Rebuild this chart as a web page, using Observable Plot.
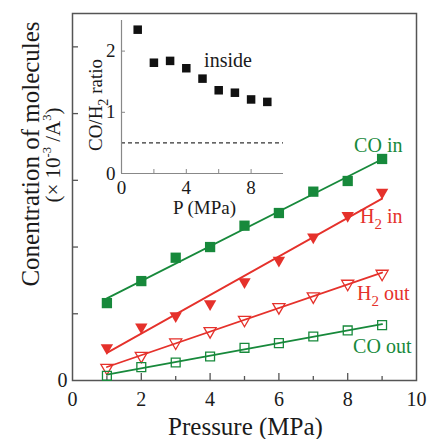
<!DOCTYPE html>
<html>
<head>
<meta charset="utf-8">
<script src="https://cdn.jsdelivr.net/npm/d3@7"></script>
<script src="https://cdn.jsdelivr.net/npm/@observablehq/plot@0.6"></script>
<style>
  html, body { margin: 0; padding: 0; background: #fff; }
  #chart { position: relative; width: 429px; height: 439px; }
  #chart svg { position: absolute; }
</style>
</head>
<body>
<div id="chart"></div>
<script>
// Pressure steps (MPa) and molecule concentrations (x10^-3 / A^3)
const pressure = [1, 2, 3, 4, 5, 6, 7, 8, 9];
const coIn  = [1.16, 1.49, 1.84, 2.00, 2.32, 2.51, 2.83, 2.99, 3.32];
const h2In  = [0.49, 0.80, 0.97, 1.15, 1.48, 1.80, 2.15, 2.47, 2.82];
const h2Out = [0.19, 0.37, 0.57, 0.74, 0.91, 1.10, 1.26, 1.45, 1.60];
const coOut = [0.07, 0.20, 0.27, 0.36, 0.49, 0.56, 0.66, 0.75, 0.83];

// CO/H2 ratio inside
const ratioInside = [2.35, 1.81, 1.84, 1.72, 1.55, 1.36, 1.32, 1.21, 1.17];
const ratioReference = [0.5];

// Axis ticks
const xTickLabels = [0, 2, 4, 6, 8, 10];
const xMajorTicks = [2, 4, 6, 8];
const xMinorTicks = [1, 3, 5, 7, 9];
const yTickLabels = [0];
const yTicks = [1, 2, 3, 4, 5];
const insetXTickLabels = [0, 4, 8];
const insetXTicks = [2, 4, 6, 8];
const insetYTickLabels = [0, 1, 2];
const insetYTicks = [1, 2];

const GREEN = "#17893b";
const RED = "#e5312b";
const AXIS = "#555";
const FONT_NAME = "Liberation Serif";
const SERIF = `'${FONT_NAME}', 'Times New Roman', serif`;
const intFormat = d => String(d);

// downward-pointing triangle symbol
const triangleDown = {
  draw(ctx, size) {
    const y = Math.sqrt(size / (Math.sqrt(3) * 3));
    ctx.moveTo(0, 2 * y);
    ctx.lineTo(Math.sqrt(3) * y, -y);
    ctx.lineTo(-Math.sqrt(3) * y, -y);
    ctx.closePath();
  }
};

const series = [
  {label: "CO in",    values: coIn,  color: GREEN, symbol: "square",     filled: true,  r: 5.8, dx: -28, dy: -13},
  {label: "H_{2} in", values: h2In,  color: RED,   symbol: triangleDown, filled: true,  r: 4.6, dx: -22, dy: 24},
  {label: "H_{2} out",values: h2Out, color: RED,   symbol: triangleDown, filled: false, r: 4.5, dx: -25, dy: 20},
  {label: "CO out",   values: coOut, color: GREEN, symbol: "square",     filled: false, r: 5.0, dx: -29, dy: 21}
];

// text width measurement for labels split into several tspans
const measureCtx = document.createElement("canvas").getContext("2d");
function textWidth(str, size) {
  measureCtx.font = `${size}px '${FONT_NAME}'`;
  return measureCtx.measureText(str).width;
}

// render "_{..}" as subscript and "^{..}" as superscript inside svg text;
// centred labels are laid out from the start with a measured offset
function applyScripts(svg) {
  const ns = "http://www.w3.org/2000/svg";
  for (const t of svg.querySelectorAll("text")) {
    const s = t.textContent;
    if (!/[_^]\{/.test(s)) continue;
    const cs = getComputedStyle(t);
    const fs = parseFloat(cs.fontSize) || 20;
    const centred = cs.textAnchor === "middle";
    const parts = s.split(/([_^]\{[^}]*\})/).filter(Boolean);
    t.textContent = "";
    let total = 0;
    const spans = [];
    for (const p of parts) {
      const ts = document.createElementNS(ns, "tspan");
      const m = p.match(/^([_^])\{(.*)\}$/);
      if (m) {
        const sub = m[1] === "_";
        const size = fs * (sub ? 0.75 : 0.6);
        ts.setAttribute("font-size", size.toFixed(1));
        ts.setAttribute("baseline-shift", (fs * (sub ? -0.3 : 0.42)).toFixed(1));
        ts.textContent = m[2];
        total += textWidth(m[2], size);
      } else {
        ts.textContent = p;
        total += textWidth(p, fs);
      }
      spans.push(ts);
      t.appendChild(ts);
    }
    if (centred) {
      t.setAttribute("text-anchor", "start");
      t.style.textAnchor = "start";
      spans[0].setAttribute("dx", (-total / 2).toFixed(2));
    }
  }
}

const W = 429, H = 439;
const mL = 72, mR = 13, mT = 13, mB = 59;
const innerW = W - mL - mR, innerH = H - mT - mB;

const marks = [
  Plot.frame({stroke: AXIS, strokeWidth: 1.5}),
  Plot.ruleX(xMajorTicks, {stroke: AXIS, strokeWidth: 1.3, insetTop: innerH - 7}),
  Plot.ruleX(xMinorTicks, {stroke: AXIS, strokeWidth: 1.3, insetTop: innerH - 4}),
  Plot.ruleY(yTicks, {stroke: AXIS, strokeWidth: 1.3, insetRight: innerW - 6}),
  Plot.axisX({ticks: xTickLabels, tickFormat: intFormat, tickSize: 0, tickPadding: 11, fontSize: 20, label: null}),
  Plot.axisY({ticks: yTickLabels, tickFormat: intFormat, tickSize: 0, tickPadding: 5, fontSize: 20, label: null}),
  Plot.text(["Pressure (MPa)"], {frameAnchor: "bottom", textAnchor: "middle", dx: 1, dy: 46, fontSize: 25, lineAnchor: "middle"}),
  Plot.text(["Conentration of molecules"], {frameAnchor: "left", textAnchor: "middle", dx: -42, dy: -43, rotate: -90, fontSize: 25, lineAnchor: "middle"}),
  Plot.text(["(× 10^{-3} /A^{3})"], {frameAnchor: "left", textAnchor: "middle", dx: -19, dy: -42, rotate: -90, fontSize: 21, lineAnchor: "middle"})
];

for (const s of series) {
  const rows = pressure.map((p, i) => ({p, v: s.values[i]}));
  marks.push(
    Plot.linearRegressionY(rows, {x: "p", y: "v", stroke: s.color, strokeWidth: 1.8, ci: 0}),
    Plot.dot(rows, {
      x: "p", y: "v", symbol: s.symbol, r: s.r,
      fill: s.filled ? s.color : "none",
      stroke: s.filled ? "none" : s.color,
      strokeWidth: 1.3
    }),
    Plot.text(rows.slice(-1), {
      x: "p", y: "v", text: () => s.label, fill: s.color,
      fontSize: 20, textAnchor: "start", lineAnchor: "middle", dx: s.dx, dy: s.dy
    })
  );
}

const main = Plot.plot({
  width: W, height: H,
  marginLeft: mL, marginRight: mR, marginTop: mT, marginBottom: mB,
  x: {domain: [0, 10], axis: null},
  y: {domain: [0, 5.5], axis: null},
  style: {fontFamily: SERIF, fontSize: "20px", color: "#1a1a1a", background: "transparent", overflow: "visible"},
  marks
});
main.style.left = "0px";
main.style.top = "0px";

// inset: CO/H2 ratio inside
const iW = 213, iH = 220;
const iL = 41, iR = 10, iT = 20, iB = 47;
const iInnerW = iW - iL - iR, iInnerH = iH - iT - iB;
const insetRows = pressure.map((p, i) => ({p, v: ratioInside[i]}));

const inset = Plot.plot({
  width: iW, height: iH,
  marginLeft: iL, marginRight: iR, marginTop: iT, marginBottom: iB,
  x: {domain: [0, 10], axis: null},
  y: {domain: [0, 2.5], axis: null},
  style: {fontFamily: SERIF, fontSize: "18px", color: "#1a1a1a", background: "transparent", overflow: "visible"},
  marks: [
    Plot.ruleY(ratioReference, {stroke: "#333", strokeWidth: 1.3, strokeDasharray: "4,3"}),
    Plot.ruleX([0], {stroke: "#888", strokeWidth: 1.2}),
    Plot.ruleY([0], {stroke: "#888", strokeWidth: 1.2}),
    Plot.ruleX(insetXTicks, {stroke: "#888", strokeWidth: 1, insetTop: iInnerH - 4}),
    Plot.ruleY(insetYTicks, {stroke: "#888", strokeWidth: 1, insetRight: iInnerW - 4}),
    Plot.dot(insetRows, {x: "p", y: "v", symbol: "square", r: 4.8, fill: "#111"}),
    Plot.axisX({ticks: insetXTickLabels, tickFormat: intFormat, tickSize: 0, tickPadding: 7, fontSize: 19, label: null}),
    Plot.axisY({ticks: insetYTickLabels, tickFormat: intFormat, tickSize: 0, tickPadding: 6, fontSize: 19, label: null}),
    Plot.text(["inside"], {x: () => 5.1, y: () => 1.84, fontSize: 20, textAnchor: "start", lineAnchor: "middle"}),
    Plot.text(["P (MPa)"], {frameAnchor: "bottom", textAnchor: "middle", dx: 2, dy: 34, fontSize: 19, lineAnchor: "middle"}),
    Plot.text(["CO/H_{2} ratio"], {frameAnchor: "left", textAnchor: "middle", dx: -26, dy: 8, rotate: -90, fontSize: 19, lineAnchor: "middle"})
  ]
});
inset.style.left = "80px";
inset.style.top = "0px";

const chart = document.getElementById("chart");
chart.appendChild(main);
chart.appendChild(inset);

applyScripts(main);
applyScripts(inset);
</script>
</body>
</html>
